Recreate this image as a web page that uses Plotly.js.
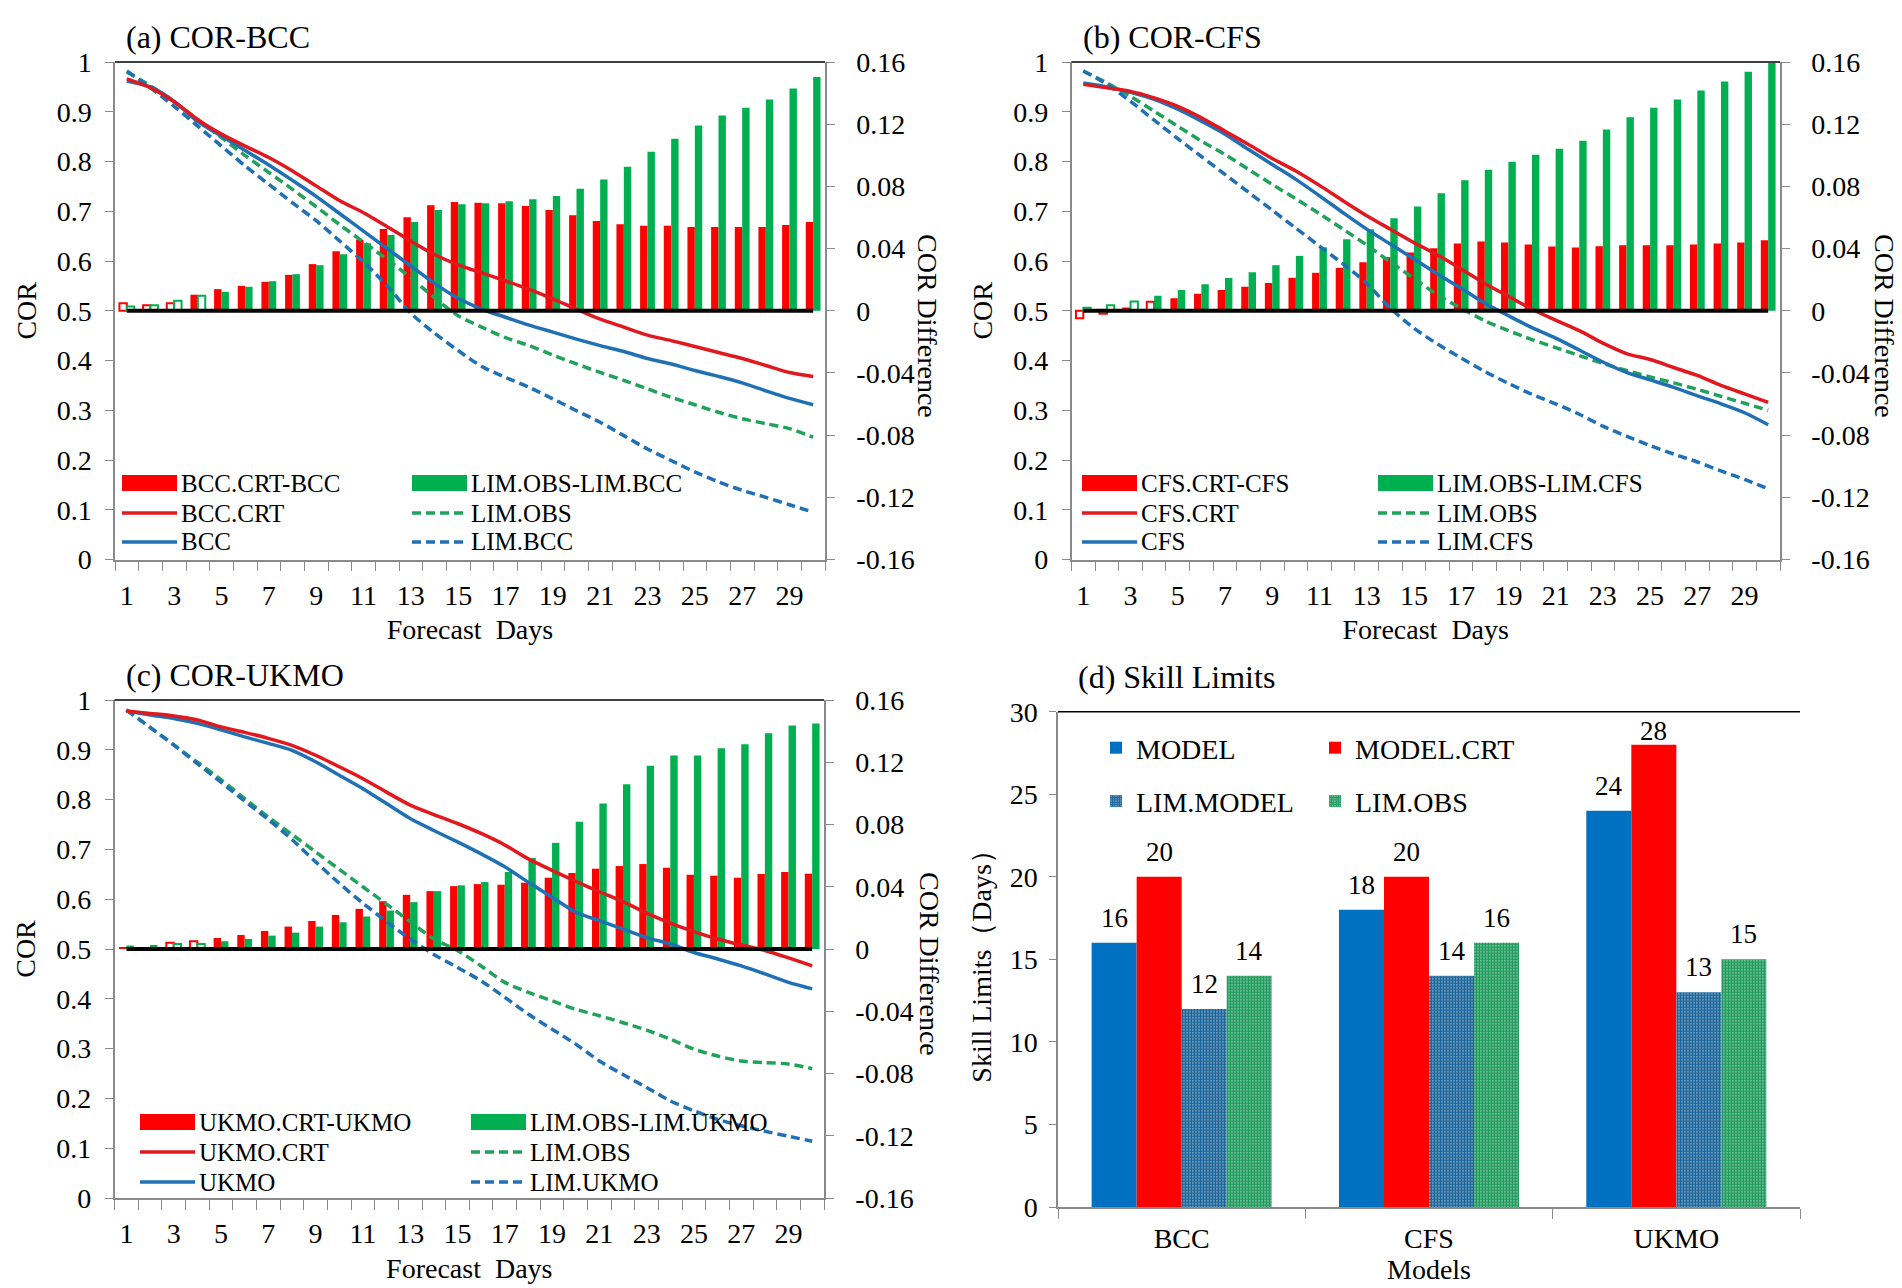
<!DOCTYPE html>
<html>
<head>
<meta charset="utf-8">
<script src="https://cdn.plot.ly/plotly-3.0.1.min.js"></script>
<style>
html,body{margin:0;padding:0;background:#ffffff;}
#chart{width:1902px;height:1288px;}
</style>
</head>
<body>
<div id="chart"></div>
<script>
// ---------------- DATA ----------------
const days = [1,2,3,4,5,6,7,8,9,10,11,12,13,14,15,16,17,18,19,20,21,22,23,24,25,26,27,28,29,30];
const dayTickVals = [1,3,5,7,9,11,13,15,17,19,21,23,25,27,29];
const dayTickText = ['1','3','5','7','9','11','13','15','17','19','21','23','25','27','29'];
const corTickVals = [0,0.1,0.2,0.3,0.4,0.5,0.6,0.7,0.8,0.9,1];
const corTickText = ['0','0.1','0.2','0.3','0.4','0.5','0.6','0.7','0.8','0.9','1'];
const diffTickVals = [-0.16,-0.12,-0.08,-0.04,0,0.04,0.08,0.12,0.16];
const diffTickText = ['-0.16','-0.12','-0.08','-0.04','0','0.04','0.08','0.12','0.16'];

// (a) BCC
const bccCrtMinusBcc = [0.0049,0.0036,0.0049,0.0103,0.0139,0.0160,0.0186,0.0231,0.0300,0.0383,0.0456,0.0526,0.0601,0.0678,0.0700,0.0695,0.0691,0.0674,0.0648,0.0614,0.0578,0.0556,0.0546,0.0546,0.0539,0.0539,0.0539,0.0539,0.0552,0.0571];
const limObsMinusLimBcc = [0.0028,0.0036,0.0064,0.0096,0.0122,0.0154,0.0190,0.0235,0.0293,0.0364,0.0434,0.0488,0.0571,0.0648,0.0685,0.0691,0.0704,0.0717,0.0738,0.0785,0.0845,0.0927,0.1023,0.1106,0.1192,0.1256,0.1305,0.1359,0.1430,0.1504];
const bccCrt = [0.966,0.948,0.920,0.884,0.855,0.831,0.808,0.781,0.751,0.721,0.697,0.669,0.640,0.613,0.592,0.576,0.560,0.543,0.524,0.503,0.483,0.467,0.451,0.440,0.428,0.416,0.404,0.390,0.376,0.368];
const bcc = [0.962,0.950,0.921,0.880,0.851,0.822,0.793,0.762,0.730,0.695,0.660,0.625,0.590,0.555,0.525,0.503,0.487,0.471,0.457,0.443,0.430,0.418,0.404,0.393,0.380,0.368,0.355,0.339,0.324,0.311];
const limObsA = [0.980,0.952,0.920,0.884,0.848,0.812,0.778,0.744,0.709,0.673,0.638,0.603,0.566,0.526,0.490,0.467,0.446,0.430,0.411,0.393,0.376,0.360,0.343,0.326,0.311,0.296,0.283,0.273,0.263,0.246];
const limBcc = [0.982,0.948,0.911,0.871,0.831,0.791,0.754,0.717,0.681,0.640,0.598,0.550,0.495,0.455,0.420,0.388,0.366,0.346,0.323,0.299,0.276,0.249,0.222,0.199,0.176,0.156,0.139,0.125,0.110,0.095];
const hollowA = {crt:[1,2,3], lim:[1,2,3,4]};

// (b) CFS
const cfsCrtMinusCfs = [-0.0049,-0.0020,0.0015,0.0058,0.0081,0.0109,0.0133,0.0154,0.0178,0.0212,0.0244,0.0276,0.0312,0.0345,0.0374,0.0402,0.0432,0.0445,0.0439,0.0426,0.0413,0.0407,0.0415,0.0422,0.0422,0.0422,0.0426,0.0432,0.0439,0.0454];
const limObsMinusLimCfs = [0.0020,0.0036,0.0060,0.0096,0.0133,0.0171,0.0210,0.0248,0.0293,0.0353,0.0409,0.0460,0.0524,0.0595,0.0670,0.0755,0.0839,0.0907,0.0959,0.1004,0.1042,0.1094,0.1166,0.1245,0.1305,0.1359,0.1417,0.1474,0.1537,0.1594];
const cfsCrt = [0.955,0.948,0.941,0.928,0.911,0.888,0.861,0.834,0.806,0.781,0.752,0.721,0.691,0.664,0.637,0.612,0.584,0.555,0.529,0.503,0.481,0.460,0.435,0.414,0.402,0.386,0.370,0.350,0.333,0.316];
const cfs = [0.958,0.950,0.939,0.925,0.905,0.881,0.855,0.824,0.794,0.764,0.731,0.697,0.664,0.634,0.604,0.574,0.545,0.515,0.490,0.466,0.445,0.421,0.397,0.376,0.361,0.346,0.329,0.313,0.295,0.271];
const limObsB = [0.982,0.958,0.931,0.901,0.871,0.841,0.814,0.784,0.754,0.725,0.695,0.664,0.632,0.598,0.565,0.532,0.505,0.480,0.460,0.442,0.426,0.410,0.394,0.380,0.367,0.355,0.342,0.328,0.314,0.300];
const limCfs = [0.982,0.955,0.921,0.883,0.846,0.810,0.774,0.738,0.702,0.666,0.630,0.594,0.555,0.505,0.465,0.433,0.405,0.378,0.354,0.332,0.313,0.292,0.268,0.248,0.229,0.212,0.196,0.178,0.161,0.142];
const hollowB = {crt:[1,2,3,4], lim:[1,2,3]};

// (c) UKMO
const ukmoCrtMinusUkmo = [0.0010,0.0010,0.0040,0.0050,0.0071,0.0090,0.0116,0.0144,0.0180,0.0219,0.0258,0.0307,0.0348,0.0372,0.0404,0.0417,0.0413,0.0426,0.0458,0.0488,0.0516,0.0533,0.0546,0.0522,0.0477,0.0471,0.0458,0.0482,0.0495,0.0484];
const limObsMinusLimUkmo = [0.0022,0.0026,0.0032,0.0032,0.0050,0.0065,0.0086,0.0105,0.0144,0.0172,0.0209,0.0247,0.0301,0.0372,0.0409,0.0430,0.0495,0.0585,0.0682,0.0817,0.0935,0.1058,0.1178,0.1243,0.1243,0.1290,0.1316,0.1387,0.1436,0.1449];
const ukmoCrt = [0.978,0.973,0.968,0.960,0.946,0.935,0.923,0.909,0.889,0.866,0.842,0.815,0.789,0.770,0.752,0.732,0.709,0.681,0.658,0.636,0.615,0.595,0.572,0.552,0.535,0.520,0.508,0.497,0.482,0.466];
const ukmo = [0.978,0.970,0.963,0.953,0.940,0.926,0.913,0.899,0.876,0.849,0.822,0.792,0.762,0.738,0.715,0.691,0.665,0.634,0.604,0.574,0.557,0.540,0.523,0.510,0.493,0.480,0.466,0.450,0.433,0.420];
const limObsC = [0.980,0.945,0.910,0.875,0.840,0.802,0.765,0.730,0.695,0.660,0.625,0.590,0.555,0.520,0.497,0.466,0.433,0.413,0.396,0.379,0.366,0.352,0.337,0.319,0.299,0.285,0.275,0.272,0.269,0.260];
const limUkmo = [0.980,0.945,0.910,0.872,0.835,0.797,0.760,0.720,0.675,0.632,0.592,0.555,0.520,0.489,0.463,0.436,0.403,0.369,0.339,0.309,0.275,0.248,0.222,0.195,0.175,0.158,0.145,0.134,0.124,0.114];
const hollowC = {crt:[3,4], lim:[3,4]};

// (d) Skill limits
const models = ['BCC','CFS','UKMO'];
const skillModel = [16,18,24];
const skillModelCrt = [20,20,28];
const skillLimModel = [12,14,13];
const skillLimObs = [14,16,15];

// ---------------- STYLE ----------------
const W = 1902, H = 1288;
const FONT = 'Liberation Serif, "Times New Roman", serif';
const RED_BAR = '#FF0000', GREEN_BAR = '#00B050';
const RED_LINE = '#E2181F', BLUE_LINE = '#1F70B4', GREEN_LINE = '#1FA35A';
const BLUE_BAR = '#0070C0';
const AXIS_GRAY = '#8A8A8A';
const px = x => x / W;
const py = y => 1 - y / H;

const panels = [
  {key:'a', x:'x', yd:'y', yc:'y2', box:[115,825,62,559.5],
   title:'(a) COR-BCC', crtDiff:bccCrtMinusBcc, limDiff:limObsMinusLimBcc,
   crt:bccCrt, mod:bcc, limObs:limObsA, limMod:limBcc, hollow:hollowA,
   names:['BCC.CRT-BCC','LIM.OBS-LIM.BCC','BCC.CRT','LIM.OBS','BCC','LIM.BCC'],
   leg:{c1:122, c2:412, rows:[483,513,542]}, diffTitle:[927,326]},
  {key:'b', x:'x2', yd:'y3', yc:'y4', box:[1071.5,1780,62,559.5],
   title:'(b) COR-CFS', crtDiff:cfsCrtMinusCfs, limDiff:limObsMinusLimCfs,
   crt:cfsCrt, mod:cfs, limObs:limObsB, limMod:limCfs, hollow:hollowB,
   names:['CFS.CRT-CFS','LIM.OBS-LIM.CFS','CFS.CRT','LIM.OBS','CFS','LIM.CFS'],
   leg:{c1:1082, c2:1378, rows:[483,513,542]}, diffTitle:[1884,326]},
  {key:'c', x:'x3', yd:'y5', yc:'y6', box:[114.6,824,700,1198],
   title:'(c) COR-UKMO', crtDiff:ukmoCrtMinusUkmo, limDiff:limObsMinusLimUkmo,
   crt:ukmoCrt, mod:ukmo, limObs:limObsC, limMod:limUkmo, hollow:hollowC,
   names:['UKMO.CRT-UKMO','LIM.OBS-LIM.UKMO','UKMO.CRT','LIM.OBS','UKMO','LIM.UKMO'],
   leg:{c1:140, c2:471, rows:[1122,1152,1182]}, diffTitle:[930,964]}
];

const traces = [];
const layout = {
  width: W, height: H,
  margin: {l:0, r:0, t:0, b:0},
  paper_bgcolor: '#ffffff', plot_bgcolor: 'rgba(0,0,0,0)',
  font: {family: FONT, size: 28, color: '#000000'},
  barmode: 'overlay',
  showlegend: true,
  shapes: [], annotations: []
};

const axisName = id => id.replace(/^x/, 'xaxis').replace(/^y/, 'yaxis');
const BAR_W = 0.3125;
const DASH = '9px,5px';

panels.forEach(p => {
  const [l, r, t, b] = p.box;
  const xd = [px(l), px(r)], yd = [py(b), py(t)];
  // bars on the difference axis (base, right side)
  const barTrace = (vals, color, hollowDays, offset, name) => ({
    type: 'bar', x: days, y: vals, xaxis: p.x, yaxis: p.yd, name: name,
    width: BAR_W, offset: offset, showlegend: false, hoverinfo: 'x+y',
    marker: {
      color: days.map(d => hollowDays.includes(d) ? '#ffffff' : color),
      line: {color: color, width: days.map(d => hollowDays.includes(d) ? 2 : 0)}
    }
  });
  traces.push(barTrace(p.crtDiff, RED_BAR, p.hollow.crt, -BAR_W, p.names[0]));
  traces.push(barTrace(p.limDiff, GREEN_BAR, p.hollow.lim, 0, p.names[1]));
  // COR lines on the overlaying axis (left side)
  const lineTrace = (vals, color, dash, name) => ({
    type: 'scatter', mode: 'lines', x: days, y: vals, xaxis: p.x, yaxis: p.yc, name: name,
    line: {color: color, width: 3.5, dash: dash, shape: 'spline', smoothing: 0.8},
    showlegend: false
  });
  traces.push(lineTrace(p.limObs, GREEN_LINE, DASH, p.names[3]));
  traces.push(lineTrace(p.limMod, BLUE_LINE, DASH, p.names[5]));
  traces.push(lineTrace(p.mod, BLUE_LINE, 'solid', p.names[4]));
  traces.push(lineTrace(p.crt, RED_LINE, 'solid', p.names[2]));

  layout[axisName(p.x)] = {
    domain: xd, anchor: p.yd, range: [0.5, 30.5],
    tickmode: 'array', tickvals: dayTickVals, ticktext: dayTickText,
    ticks: '', showline: true, linecolor: AXIS_GRAY, linewidth: 1.5,
    showgrid: false, zeroline: false, ticklabelstandoff: 10,
    tickfont: {family: FONT, size: 28},
    minor: {ticks: 'outside', tickmode: 'linear', tick0: 0.5, dtick: 1, ticklen: 10,
            tickcolor: AXIS_GRAY, tickwidth: 1.3, showgrid: false},
    title: {text: 'Forecast\u00a0 Days', font: {family: FONT, size: 28}, standoff: 10}
  };
  layout[axisName(p.yd)] = {
    domain: yd, anchor: p.x, side: 'right', range: [-0.16, 0.16],
    tickmode: 'array', tickvals: diffTickVals, ticktext: diffTickText,
    ticks: 'outside', ticklen: 8, tickcolor: AXIS_GRAY, tickwidth: 1.3,
    showline: true, linecolor: AXIS_GRAY, linewidth: 1.5,
    showgrid: false, zeroline: false, ticklabelstandoff: 16,
    tickfont: {family: FONT, size: 28}
  };
  layout[axisName(p.yc)] = {
    overlaying: p.yd, anchor: p.x, side: 'left', range: [0, 1],
    tickmode: 'array', tickvals: corTickVals, ticktext: corTickText,
    ticks: 'outside', ticklen: 8, tickcolor: AXIS_GRAY, tickwidth: 1.3,
    showline: true, linecolor: AXIS_GRAY, linewidth: 1.5,
    showgrid: false, zeroline: false, ticklabelstandoff: 8,
    tickfont: {family: FONT, size: 28},
    title: {text: 'COR', font: {family: FONT, size: 28}, standoff: 12}
  };
  // top border of plot area
  layout.shapes.push({type:'line', xref: p.x + ' domain', yref: p.yd + ' domain',
    x0: 0, x1: 1, y0: 1, y1: 1, line: {color: '#000000', width: 1.5}});
  // zero-difference reference line
  layout.shapes.push({type:'line', xref: p.x, yref: p.yd, layer: 'above',
    x0: days[0], x1: days[days.length - 1], y0: 0, y1: 0, line: {color: '#000000', width: 4}});
  // panel title
  layout.annotations.push({text: p.title, xref:'paper', yref:'paper', x: px(l + 9), y: py(t - 25),
    xanchor:'left', yanchor:'middle', showarrow:false, font:{family: FONT, size: 32}});
  // right axis title (reads top to bottom)
  layout.annotations.push({text: 'COR Difference', xref:'paper', yref:'paper',
    x: px(p.diffTitle[0]), y: py(p.diffTitle[1]), textangle: 90,
    xanchor:'center', yanchor:'middle', showarrow:false, font:{family: FONT, size: 28}});
  // legend (2 columns x 3 rows, Excel style)
  const L = p.leg, SW = 55;
  const items = [
    {col: L.c1, row: 0, kind:'bar', color: RED_BAR, text: p.names[0]},
    {col: L.c2, row: 0, kind:'bar', color: GREEN_BAR, text: p.names[1]},
    {col: L.c1, row: 1, kind:'line', color: RED_LINE, dash:'solid', text: p.names[2]},
    {col: L.c2, row: 1, kind:'line', color: GREEN_LINE, dash: DASH, text: p.names[3]},
    {col: L.c1, row: 2, kind:'line', color: BLUE_LINE, dash:'solid', text: p.names[4]},
    {col: L.c2, row: 2, kind:'line', color: BLUE_LINE, dash: DASH, text: p.names[5]}
  ];
  items.forEach(it => {
    const yc = L.rows[it.row];
    if (it.kind === 'bar') {
      layout.shapes.push({type:'rect', xref:'paper', yref:'paper',
        x0: px(it.col), x1: px(it.col + SW), y0: py(yc + 8), y1: py(yc - 8),
        fillcolor: it.color, line: {width: 0}});
    } else {
      layout.shapes.push({type:'line', xref:'paper', yref:'paper',
        x0: px(it.col), x1: px(it.col + SW), y0: py(yc), y1: py(yc),
        line: {color: it.color, width: 3.5, dash: it.dash}});
    }
    layout.annotations.push({text: it.text, xref:'paper', yref:'paper',
      x: px(it.col + SW + 2), y: py(yc), xanchor:'left', yanchor:'middle',
      showarrow:false, font:{family: FONT, size: 25}});
  });
});

// ---------------- (d) Skill Limits ----------------
const D = [1058, 1800, 711.7, 1207];
const SKW = 0.182;
const skillSeries = [
  {vals: skillModel, name: 'MODEL', offset: -2 * SKW, legend: 'legend',
   marker: {color: BLUE_BAR, line: {width: 0}}},
  {vals: skillModelCrt, name: 'MODEL.CRT', offset: -SKW, legend: 'legend2',
   marker: {color: RED_BAR, line: {width: 0}}},
  {vals: skillLimModel, name: 'LIM.MODEL', offset: 0, legend: 'legend',
   marker: {color: '#ffffff', line: {width: 0},
            pattern: {shape: '.', fgcolor: '#1A6499', bgcolor: '#ffffff', size: 3, solidity: 0.8}}},
  {vals: skillLimObs, name: 'LIM.OBS', offset: SKW, legend: 'legend2',
   marker: {color: '#ffffff', line: {width: 0},
            pattern: {shape: '.', fgcolor: '#1E9A5C', bgcolor: '#ffffff', size: 3, solidity: 0.8}}}
];
const plotH = D[3] - D[2];
skillSeries.forEach(s => {
  traces.push({
    type: 'bar', x: models, y: s.vals, name: s.name, xaxis: 'x4', yaxis: 'y7',
    width: SKW, offset: s.offset, marker: s.marker, legend: s.legend, legendgroup: s.name,
    hoverinfo: 'x+y'
  });
  // Excel-style data labels above each bar (kept inside the plot area)
  s.vals.forEach((v, i) => {
    const barTopPx = D[3] - v / 30 * plotH;
    const shift = Math.min(25, barTopPx - (D[2] + 19));
    layout.annotations.push({
      text: String(v), xref: 'x4', yref: 'y7', x: i + s.offset + SKW / 2, y: v,
      xanchor: 'center', yanchor: 'middle', yshift: shift, showarrow: false,
      font: {family: FONT, size: 27, color: '#000000'}
    });
  });
});

layout.xaxis4 = {
  domain: [px(D[0]), px(D[1])], anchor: 'y7', type: 'category', range: [-0.5, 2.5],
  ticks: 'outside', tickson: 'boundaries', ticklen: 10, tickcolor: AXIS_GRAY, tickwidth: 1.3,
  showline: true, linecolor: AXIS_GRAY, linewidth: 1.5, showgrid: false, zeroline: false,
  ticklabelstandoff: 6, tickfont: {family: FONT, size: 28},
  title: {text: 'Models', font: {family: FONT, size: 28}, standoff: 2}
};
layout.yaxis7 = {
  domain: [py(D[3]), py(D[2])], anchor: 'x4', range: [0, 30],
  tickmode: 'linear', tick0: 0, dtick: 5,
  ticks: 'outside', ticklen: 7, tickcolor: AXIS_GRAY, tickwidth: 1.3,
  showline: true, linecolor: AXIS_GRAY, linewidth: 1.5, showgrid: false, zeroline: false,
  ticklabelstandoff: 6, tickfont: {family: FONT, size: 28},
  title: {text: 'Skill Limits\uff08Days\uff09', font: {family: FONT, size: 28}, standoff: 10}
};
layout.shapes.push({type:'line', xref:'x4 domain', yref:'y7 domain',
  x0: 0, x1: 1, y0: 1, y1: 1, line: {color: '#000000', width: 1.5}});
layout.annotations.push({text: '(d) Skill Limits', xref:'paper', yref:'paper', x: px(1076), y: py(677),
  xanchor:'left', yanchor:'middle', showarrow:false, font:{family: FONT, size: 32}});

const legendBase = {xanchor:'left', yanchor:'top', orientation:'v', bgcolor:'rgba(0,0,0,0)',
  borderwidth: 0, font:{family: FONT, size: 28}, traceorder:'grouped', tracegroupgap: 14, itemwidth: 30};
layout.legend = Object.assign({}, legendBase, {x: px(1096), y: py(723)});
layout.legend2 = Object.assign({}, legendBase, {x: px(1315), y: py(723)});

Plotly.newPlot('chart', traces, layout, {displayModeBar: false, responsive: false});
</script>
</body>
</html>
